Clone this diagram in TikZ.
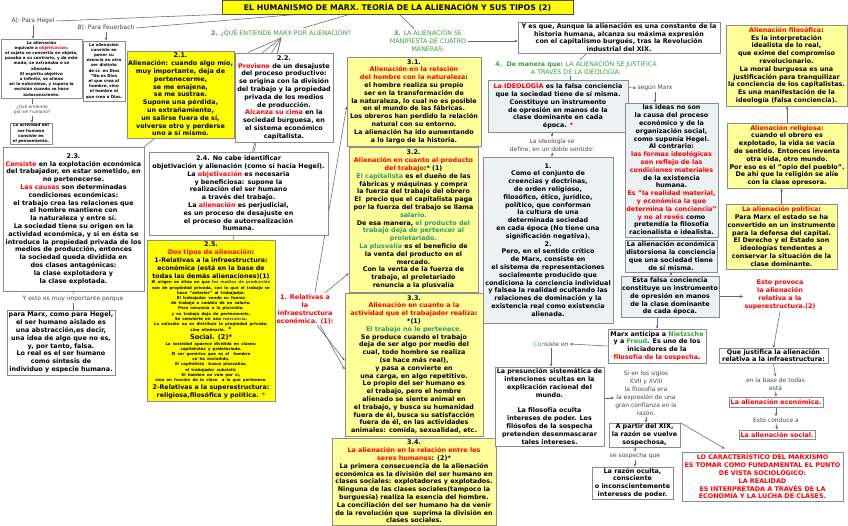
\documentclass[tikz,border=0pt]{standalone}
\usepackage{fontspec}
\setmainfont{DejaVu Sans}
\usetikzlibrary{arrows.meta,calc}
\definecolor{ybright}{HTML}{FFFF00}
\definecolor{ylight}{HTML}{FFFF99}
\definecolor{bluegray}{HTML}{ECF1F4}
\definecolor{bord}{HTML}{8C8C8C}
\definecolor{myred}{HTML}{FF0000}
\definecolor{mygreen}{HTML}{36A136}
\definecolor{tgreen}{HTML}{2E9966}
\definecolor{myblue}{HTML}{3333CC}
\definecolor{labgray}{HTML}{484848}
\definecolor{linecol}{HTML}{666666}
\newcommand{\Rt}[1]{\textcolor{myred}{#1}}
\newcommand{\Gt}[1]{\textcolor{mygreen}{#1}}
\newcommand{\Tt}[1]{\textcolor{tgreen}{#1}}
\newcommand{\Bt}[1]{\textcolor{myblue}{#1}}
\pgfdeclarelayer{bglayer}
\pgfdeclarelayer{linelayer}
\pgfsetlayers{bglayer,linelayer,main}
\tikzset{
 sz/.style n args={2}{minimum width=#1pt,minimum height=#2pt},
 box/.style={draw=bord, line width=0.7pt, fill=white, inner sep=0pt, align=center, font=\fontsize{6.4}{7.8}\selectfont\bfseries, text=black},
 ybox/.style={box, fill=ybright},
 lybox/.style={box, fill=ylight},
 bbox/.style={box, fill=bluegray},
 smallbox/.style={box, font=\fontsize{4}{5.2}\selectfont\bfseries},
 lab/.style={inner sep=1.2pt, align=center, font=\fontsize{6}{8}\selectfont, text=labgray},
 glab/.style={inner sep=1.2pt, align=center, font=\fontsize{6.3}{8}\selectfont, text=mygreen},
 rlab/.style={inner sep=1.2pt, align=center, font=\fontsize{6.4}{8}\selectfont\bfseries, text=myred},
 ln/.style={draw=linecol, line width=0.55pt},
 arr/.style={ln, -{Stealth[length=3.2pt,width=2.8pt]}},
}
\begin{document}
\begin{tikzpicture}[x=1pt,y=-1pt]
\useasboundingbox (0,0) rectangle (848,526);
\begin{pgfonlayer}{bglayer}
\fill[white] (0,0) rectangle (848,526);
\end{pgfonlayer}

% ---------- title and left column
\node[ybox, sz={351}{14}, font=\fontsize{7.8}{9}\selectfont\bfseries, draw=black!70] (title) at (397.5,7) {EL HUMANISMO DE MARX. TEORÍA DE LA ALIENACIÓN Y SUS TIPOS (2)};
\node[lab, text=black!75] (A) at (33,21) {A): Para Hegel};
\node[lab, text=black!75] (B) at (106,28) {B): Para Feuerbach};
\node[smallbox, sz={81}{59}] (hegel) at (41.5,68.5) {La alienación\\equivale a \Rt{objetivación:}\\el sujeto se convertía en objeto,\\pasaba a su contrario, y de este\\modo, se extrañaba o se\\alienaba.\\El espíritu objetivo\\o infinito, se aliena\\en la naturaleza, y supera la\\escisión cuando se hace\\autoconsciente.};
\node[smallbox, sz={42}{60}] (feuer) at (104,71) {La alienación\\consiste en\\poner su\\esencia en otro\\ser distinto\\de sí: en Dios\\"No es Dios\\el que crea al\\hombre, sino\\el hombre el\\que crea a Dios.};
\node[lab, font=\fontsize{4.3}{5.2}\selectfont] (labQue) at (32,110) {¿Qué entiende\\por ser humano?};
\node[smallbox, sz={42}{21}] (activ) at (31,133.5) {La actividad del\\ser humano\\consiste en\\el pensamiento.};

\node[glab] (lab2) at (281,33) {\textbf{2.} ¿QUÉ ENTIENDE MARX POR ALIENACIÓN?};
\node[ybox, sz={107}{87}] (b21) at (180.5,94.5) {2.1.\\Alienación: cuando algo mío,\\muy importante, deja de\\pertenecerme,\\se me enajena,\\se me sustrae.\\Supone una pérdida,\\un extrañamiento,\\un salirse fuera de sí,\\volverse otro y perderse\\uno a sí mismo.};
\node[box, sz={98}{89}] (b22) at (284,97.5) {2.2.\\\Rt{Proviene} de un desajuste\\del proceso productivo:\\se origina con la división\\del trabajo y la propiedad\\privada de los medios\\de producción.\\\Rt{Alcanza su cima} en la\\sociedad burguesa, en\\el sistema económico\\capitalista.};
\node[box, sz={141}{144}] (b23) at (73.5,219) {2.3.\\\Rt{Consiste} en la explotación económica\\del trabajador, en estar sometido, en\\no pertenecerse.\\\Rt{Las causas} son determinadas\\condiciones económicas:\\el trabajo crea las relaciones que\\el hombre mantiene con\\la naturaleza y entre sí.\\La sociedad tiene su origen en la\\actividad económica, y si en ésta se\\introduce la propiedad privada de los\\medios de producción, entonces\\la sociedad queda dividida en\\dos clases antagónicas:\\la clase explotadora y\\la clase explotada.};
\node[lab] (labYesto) at (73,299) {Y esto es muy importante porque};
\node[box, sz={108}{65}] (paramarx) at (61,342.5) {para Marx, como para Hegel,\\el ser humano aislado es\\una abstracción,es decir,\\una idea de algo que no es,\\y, por tanto, falsa.\\Lo real es el ser humano\\como síntesis de\\individuo y especie humana.};
\node[box, sz={179}{83}] (b24) at (238.5,193.5) {2.4. No cabe identificar\\objetivación y alienación (como sí hacía Hegel).\\La \Rt{objetivación} es necesaria\\y beneficiosa: supone la\\realización del ser humano\\a través del trabajo.\\La \Rt{alienación} es perjudicial,\\es un proceso de desajuste en\\el proceso de autorrealización\\humana.};
\node[ybox, sz={128}{161}, text width=128pt] (b25) at (211,320.5) {%
{\fontsize{6.4}{7.8}\selectfont 2.5.\\\Rt{Dos tipos de alienación}:\par}%
{\fontsize{6.3}{8}\selectfont 1-Relativas a la infraestructura:\\económica (está en la base de\\todas las demás alienaciones)(1)\par}%
{\fontsize{3.9}{5.2}\selectfont El origen se sitúa en que \Bt{los medios de producción}\\son de propiedad privada, con lo que el trabajo se\\hace "exterior" al trabajador.\\El trabajador vende su fuerza\\de trabajo a cambio de un salario.\\Pero renuncia a la plusvalía,\\y su trabajo deja de pertenecerle.\\Se convierte en una \Bt{mercancía}.\\La solución no es distribuir la propiedad privada,\\sino eliminarla. {\fontsize{6}{6}\selectfont *}\par}%
{\fontsize{6.6}{8}\selectfont Social. (2)*\par}%
{\fontsize{3.9}{5.2}\selectfont La sociedad aparece dividida en clases:\\capitalistas y proletariado.\\El ser genérico que es el\ \ hombre\\se ha escindido.\\El capitalista\ \ busca plusvalías,\\el trabajador subsistir.\\El hombre no vale por sí,\\sino en función de la clase\ \ a la que pertenece.\par}%
{\fontsize{6.3}{8}\selectfont 2-Relativas a la superestructura:\\religiosa,filosófica y política. \Rt{*}\par}};
\node[rlab] (labRel) at (305,309) {1. Relativas a\\la\\infraestructura\\económica. (1):};

% ---------- column 3
\node[glab] (lab3) at (428,41) {\textbf{3.} LA ALIENACIÓN SE\\MANIFIESTA DE CUATRO\\MANERAS:};
\node[lybox, sz={134}{89}] (b31) at (414,101.5) {3.1.\\\Rt{Alienación en la relación}\\\Rt{del hombre con la naturaleza}:\\el hombre realiza su propio\\ser en la transformación de\\la naturaleza, lo cual no es posible\\en el mundo de las fábricas.\\Los obreros han perdido la relación\\natural con su entorno.\\La alienación ha ido aumentando\\a lo largo de la historia.};
\node[lybox, sz={129}{145}] (b32) at (413.5,219.5) {3.2.\\\Rt{Alienación en cuanto al producto}\\\Rt{del trabajo}:* (1)\\\Tt{El capitalista} es el dueño de las\\fábricas y máquinas y compra\\la fuerza del trabajo del obrero\\El\ \ precio que el capitalista paga\\por la fuerza del trabajo se llama\\\Tt{salario.}\\De esa manera, \Tt{el producto del}\\\Tt{trabajo deja de pertencer al}\\\Tt{proletariado.}\\\Tt{La plusvalía} es el beneficio de\\la venta del producto en el\\mercado.\\Con la venta de la fuerza de\\trabajo, el proletariado\\renuncia a la plusvalía};
\node[lybox, sz={138}{143}] (b33) at (414,364.5) {3.3.\\\Rt{Alienación en cuanto a la}\\\Rt{actividad que el trabajador realiza}:\\*(1)\\\Tt{El trabajo no le pertenece.}\\Se produce cuando el trabajo\\deja de ser algo por medio del\\cual, todo hombre se realiza\\(se hace más real),\\y pasa a convierte en\\una carga, en algo repetitivo.\\Lo propio del ser humano es\\el trabajo, pero el hombre\\alienado se siente animal en\\el trabajo, y busca su humanidad\\fuera de él, busca su satisfacción\\fuera de él, en las actividades\\animales: comida, sexualidad, etc.};
\node[lybox, sz={164}{87}] (b34) at (414,481.5) {3.4.\\\Rt{La alienación en la relación entre los}\\\Rt{seres humanos}: (2)*\\La primera consecuencia de la alienación\\económica es la división del ser humano en\\clases sociales: explotadores y explotados.\\Ninguna de las clases sociales(tampoco la\\burguesía) realiza la esencia del hombre.\\La conciliación del ser humano ha de venir\\de la revolución que\ \ suprima la división en\\clases sociales.};

% ---------- ideology column
\node[box, sz={202}{31}] (yesque) at (619,37.5) {Y es que, Aunque la alienación es una constante de la\\historia humana, alcanza su máxima expresión\\con el capitalismo burgués, tras la Revolución\\industrial del XIX.};
\node[glab] (lab4) at (576,68) {\textbf{4.\ \ De manera que:} LA ALIENACIÓN SE JUSTIFICA\\A TRAVÉS DE LA IDEOLOGÍA.};
\node[bbox, sz={140}{52}] (ideo) at (558,106) {\Rt{La IDEOLOGÍA} es la falsa conciencia\\que la sociedad tiene de sí misma.\\Constituye un instrumento\\de opresión en manos de la\\clase dominante en cada\\época. \Rt{*}};
\node[lab] (labSegun) at (655,88) {según Marx};
\node[lab] (labDoble) at (552,145) {La ideología se\\define, en un doble sentido:};
\node[bbox, sz={130}{166}] (doble) at (548,240) {1.\\Como el conjunto de\\creencias y doctrinas,\\de orden religioso,\\filosófico, ético, jurídico,\\político, que conforman\\la cultura de una\\determinada sociedad\\en cada época (No tiene una\\significación negativa).\\2.\\Pero, en el sentido crítico\\de Marx, consiste en\\el sistema de representaciones\\socialmente producido que\\condiciona la conciencia individual\\y falsea la realidad ocultando las\\relaciones de dominación y la\\existencia real como existencia\\alienada.};
\node[bbox, sz={93}{134}] (ideas) at (671.5,170) {las ideas no son\\la causa del proceso\\económico y de la\\organización social,\\como suponía Hegel.\\Al contrario:\\\Rt{las formas ideológicas}\\\Rt{son reflejo de las}\\\Rt{condiciones materiales}\\de la existencia\\humana.\\\Rt{Es "la realidad material,}\\\Rt{y económica la que}\\\Rt{determina la conciencia"}\\\Rt{y no al revés} como\\pretendía la filosofía\\racionalista e idealista.};
\node[bbox, sz={92}{32}] (aleco) at (671,256) {La alienación económica\\distorsiona la conciencia\\que una sociedad tiene\\de sí misma.};
\node[bbox, sz={98}{41}] (falsa) at (670,296.5) {Esta falsa conciencia\\constituye un instrumento\\de opresión en manos\\de la clase dominante\\de cada época.};
\node[box, sz={98}{34}] (marxant) at (657,346) {Marx anticipa a \Gt{Nietzsche}\\y a \Gt{Freud}. Es uno de los\\iniciadores de la\\\Rt{filosofía de la sospecha}.};
\node[lab] (labConsiste) at (551,344) {\Gt{Con}siste en};
\node[box, sz={109}{79}] (presun) at (549.5,406.5) {La presunción sistemática de\\intenciones ocultas en la\\explicación racional del\\mundo.\\[7.8pt]La filosofía oculta\\intereses de poder. Los\\filósofos de la sospecha\\pretenden desenmascarar\\tales intereses.};
\node[lab] (labSi) at (646,393) {Si en los siglos\\XVII y XVIII\\la filosofía era\\la expresión de una\\gran confianza en la\\razón.};
\node[box, sz={71}{24}] (apartir) at (644.5,435) {A partir del XIX,\\la razón se vuelve\\sospechosa,};
\node[lab] (labSeSosp) at (635,456) {se sospecha que};
\node[box, sz={81}{32}] (razon) at (632.5,483) {La razón oculta,\\consciente\\o inconscientemente\\intereses de poder.};

% ---------- right column
\node[lybox, sz={121}{81}] (filos) at (786.5,65.5) {\Rt{Alienación filosófica}:\\Es la interpretación\\idealista de lo real,\\que exime del compromiso\\revolucionario.\\La moral burguesa es una\\justificación para tranquilizar\\la conciencia de los capitalistas.\\Es una manifestación de la\\ideología (falsa conciencia).};
\node[lybox, sz={120}{65}] (relig) at (787,155.5) {\Rt{Alienación religiosa:}\\cuando el obrero es\\explotado, la vida se vacía\\de sentido. Entonces inventa\\otra vida, otro mundo.\\Por eso es el "opio del pueblo".\\De ahí que la religión se alíe\\con la clase opresora.};
\node[lybox, sz={111}{65}] (polit) at (781.5,236.5) {\Rt{La alienación política}:\\Para Marx el estado se ha\\convertido en un instrumento\\para la defensa del capital.\\El Derecho y el Estado son\\ideologías tendentes a\\conservar la situación de la\\clase dominante.};
\node[rlab] (labEsto) at (780,295) {Esto provoca\\la alienación\\relativa a la\\superestructura.(2)};
\node[box, sz={109}{15}] (quejust) at (773.5,355.5) {Que justifica la alienación\\relativa a la infraestructura:};
\node[lab] (labBase) at (775.5,384) {en la base de todas\\está};
\node[box, sz={94}{10}, text=myred] (aleconom) at (776,402) {La alienación económica.};
\node[lab] (labConduce) at (776,420) {Esto conduce a};
\node[box, sz={76}{9}, text=myred] (alsocial) at (777,434.5) {La alienación social.};
\node[box, sz={161}{49}, text=myred] (lochar) at (762.5,476.5) {LO CARACTERÍSTICO DEL MARXISMO\\ES TOMAR COMO FUNDAMENTAL EL PUNTO\\DE VISTA SOCIOLÓGICO:\\LA REALIDAD\\ES INTERPRETADA A TRAVÉS DE LA\\ECONOMÍA Y LA LUCHA DE CLASES.};

% ---------- connectors
\begin{pgfonlayer}{linelayer}
\draw[ln] (A.east) -- (title.south west);
\draw[ln] (B.east) -- ($(title.south west)+(76,0)$);
\draw[arr] (A.south) -- (A.south |- hegel.north);
\draw[arr] (B.south) -- (B.south |- feuer.north);
\draw[ln] (labQue.north |- hegel.south) -- (labQue.north);
\draw[arr] (labQue.south) -- (labQue.south |- activ.north);
\draw[ln] ($(title.south west)+(128,0)$) -- ($(lab2.north)+(22,0)$);
\draw[ln] ($(title.south west)+(178,0)$) -- ($(lab3.north)+(-14,0)$);
\draw[ln] (lab2.south) -- ($(b22.north west)+(13,0)$);
\draw[ln] (lab2.south) -- ($(b22.north west)+(37,0)$);
\draw[ln] (lab2.south) -- (b23.north east);
\draw[ln] (lab2.south) -- ($(b24.north)+(14,0)$);
\draw[ln] (lab2.south) -- ($(b25.north)+(22,0)$);
\draw[ln] (b23.south) -- (labYesto.north);
\draw[ln] (labYesto.south) -- (labYesto.south |- paramarx.north);
\draw[ln] (labRel.west -| b25.east) -- (labRel.west);
\draw[arr] ($(labRel.north)+(10,0)$) -- ($(b31.west)+(0,5)$);
\draw[arr] ($(labRel.north)+(20,0)$) -- ($(b32.south west)+(0,-19)$);
\draw[arr] ($(labRel.south)+(12,0)$) -- ($(b33.west)+(0,-4)$);
\draw[arr] ($(labRel.south)+(15,0)$) -- ($(b33.west)+(0,5)$);
\draw[arr] (lab3.east) -- (lab3.east -| yesque.west);
\draw[ln] ($(yesque.south west)+(69,0)$) -- ($(lab4.north)+(4,0)$);
\draw[ln] ($(lab4.south)+(-6,0)$) -- ($(ideo.north)+(12,0)$);
\draw[arr] ($(ideo.north east)+(0,8)$) -- (labSegun.west);
\draw[arr] (labSegun.south) -- (labSegun.south |- ideas.north);
\draw[arr] (labDoble.north |- ideo.south) -- (labDoble.north);
\draw[arr] (labDoble.south) -- (labDoble.south |- doble.north);
\draw[arr] (aleco.south) -- (aleco.south |- falsa.north);
\draw[arr] (falsa.east) -- (labEsto.west |- falsa.east);
\draw[arr] (marxant.north |- falsa.south) -- (marxant.north);
\draw[arr] (polit.north) -- (polit.north |- relig.south);
\draw[arr] (relig.north) -- (relig.north |- filos.south);
\draw[arr] (labEsto.south) -- (quejust.north);
\draw[arr] (quejust.south) -- (labBase.north);
\draw[arr] (labBase.south) -- (aleconom.north);
\draw[arr] (aleconom.south) -- (labConduce.north);
\draw[arr] (labConduce.south) -- (alsocial.north);
\draw[arr] (marxant.west) -- (labConsiste.east);
\draw[arr] (labConsiste.south) -- (labConsiste.south |- presun.north);
\draw[arr] ($(presun.east)+(0,-8.5)$) -- ($(labSi.west)+(0,5)$);
\draw[arr] (labSi.south) -- (labSi.south |- apartir.north);
\draw[arr] (labSeSosp.north |- apartir.south) -- (labSeSosp.north);
\draw[arr] (labSeSosp.south) -- (labSeSosp.south |- razon.north);
\draw[arr] (apartir.north east) -- ($(lochar.north west)+(43,-3)$);
\end{pgfonlayer}
\end{tikzpicture}
\end{document}
